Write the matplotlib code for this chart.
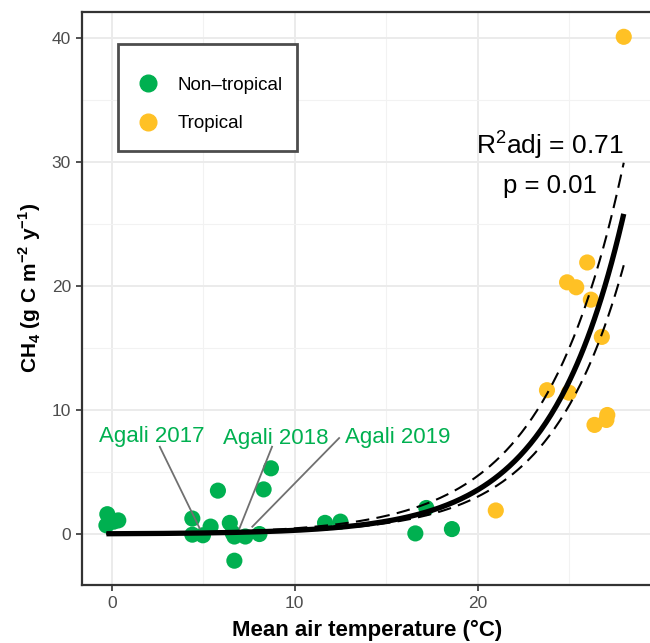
import numpy as np
import matplotlib
matplotlib.use("Agg")
import matplotlib.pyplot as plt
from matplotlib.lines import Line2D
from matplotlib.patches import Rectangle

plt.rcParams['font.family'] = ['Liberation Sans', 'DejaVu Sans']
plt.rcParams['mathtext.fontset'] = 'custom'
plt.rcParams['mathtext.rm'] = 'Liberation Sans'
plt.rcParams['mathtext.bf'] = 'Liberation Sans:bold'

# ---- data ----
nontrop_x = [-0.25, 0.35, -0.3, 0.1, 4.4, 4.4, 4.98, 5.4, 5.8, 6.45, 6.6, 6.7, 6.7,
             7.3, 8.07, 8.3, 8.7, 11.66, 12.5, 16.6, 17.2, 18.6]
nontrop_y = [1.6, 1.1, 0.7, 1.0, 1.25, -0.05, -0.1, 0.6, 3.5, 0.9, 0.1, -0.2, -2.15,
             -0.2, 0.0, 3.6, 5.3, 0.9, 1.0, 0.05, 2.1, 0.4]
trop_x = [21.0, 23.8, 25.0, 24.9, 25.4, 26.0, 26.2, 26.8, 26.4, 27.1, 27.05, 28.0]
trop_y = [1.9, 11.6, 11.4, 20.3, 19.9, 21.9, 18.9, 15.9, 8.8, 9.6, 9.2, 40.1]

# fitted exponential model y = a*exp(b*x) and confidence bounds
fit_a, fit_b = 0.0249, 0.248
upr_a, upr_b = 0.0452, 0.232
lwr_a, lwr_b = 0.0215, 0.247

agali_labels = ['Agali 2017', 'Agali 2018', 'Agali 2019']
agali_label_x = [2.2, 8.94, 15.65]
agali_label_y = [7.45, 7.27, 7.32]
agali_seg_start = [(2.62, 7.04), (8.76, 7.04), (12.43, 7.74)]
agali_seg_end = [(4.8, 0.46), (6.98, 0.46), (7.68, 0.59)]

legend_labels = ['Non\u2013tropical', 'Tropical']
r2_text = r'R$^\mathregular{2}$adj = 0.71'
p_text = 'p = 0.01'

green = '#00B050'
orange = '#FFC125'

# ---- figure ----
fig = plt.figure(figsize=(6.5, 6.43), dpi=100)
ax = fig.add_axes([82/650, 1 - 585/643, (653 - 82)/650, (585 - 12)/643])

ax.set_xlim(-1.635, 29.6)
ax.set_ylim(-4.11, 42.1)

# grid
ax.set_xticks([0, 10, 20])
ax.set_yticks([0, 10, 20, 30, 40])
ax.set_xticks([5, 15, 25], minor=True)
ax.set_yticks([5, 15, 25, 35], minor=True)
ax.grid(which='major', color='#EBEBEB', lw=1.4, zorder=0)
ax.grid(which='minor', color='#F2F2F2', lw=0.8, zorder=0)
ax.set_axisbelow(True)
ax.tick_params(which='minor', length=0)
ax.tick_params(which='major', length=4, width=1.2, color='#333333',
               labelsize=12.5, labelcolor='#4D4D4D', pad=4)

for s in ['left', 'bottom', 'top', 'right']:
    ax.spines[s].set_color('#333333')
    ax.spines[s].set_linewidth(1.6)

# points
ax.scatter(nontrop_x, nontrop_y, s=135, color=green, edgecolors='none', zorder=3)
ax.scatter(trop_x, trop_y, s=135, color=orange, edgecolors='none', zorder=3)

# fitted curve
all_x = np.array(nontrop_x + trop_x)
xf = np.linspace(all_x.min(), all_x.max(), 300)
ax.plot(xf, fit_a * np.exp(fit_b * xf), color='black', lw=3.8, zorder=4,
        solid_capstyle='butt')
ax.plot(xf, upr_a * np.exp(upr_b * xf), color='black', lw=1.5, dashes=(6.5, 3.5), zorder=4)
ax.plot(xf, lwr_a * np.exp(lwr_b * xf), color='black', lw=1.5, dashes=(6.5, 3.5), zorder=4)

# Agali labels
for lab, lx, ly, s0, s1 in zip(agali_labels, agali_label_x, agali_label_y,
                               agali_seg_start, agali_seg_end):
    ax.plot([s0[0], s1[0]], [s0[1], s1[1]], color='#707070', lw=1.3, zorder=5)
    ax.text(lx, ly, lab, color=green, fontsize=16, ha='center', va='baseline', zorder=6)

# stats text
ax.text(23.95, 30.65, r2_text, fontsize=19, ha='center', va='baseline', color='black')
ax.text(23.95, 27.5, p_text, fontsize=18.5, ha='center', va='baseline', color='black')

# legend (box drawn separately, ggplot-style)
ax.add_patch(Rectangle((0.063, 0.7574), 0.3135, 0.1867, transform=ax.transAxes,
                       facecolor='white', edgecolor='#4D4D4D', lw=2.0, zorder=7))
handles = [Line2D([], [], marker='o', ls='none', color=green, markersize=12),
           Line2D([], [], marker='o', ls='none', color=orange, markersize=12)]
leg = ax.legend(handles, legend_labels, loc='center left',
                bbox_to_anchor=(0.0834, 0.8385), fontsize=13.5, frameon=False,
                borderpad=0, labelspacing=1.12, handletextpad=0.62,
                handlelength=1.95, borderaxespad=0)
leg.set_zorder(8)

ax.set_xlabel('Mean air temperature (\u00b0C)', fontsize=16, fontweight='bold', labelpad=6)
ax.set_ylabel(r'CH$_\mathregular{4}$ (g C m$^\mathregular{-2}$ y$^\mathregular{-1}$)',
              fontsize=15, fontweight='bold')
ax.yaxis.set_label_coords(-0.068, 0.518)

fig.savefig('out.png', dpi=100)
